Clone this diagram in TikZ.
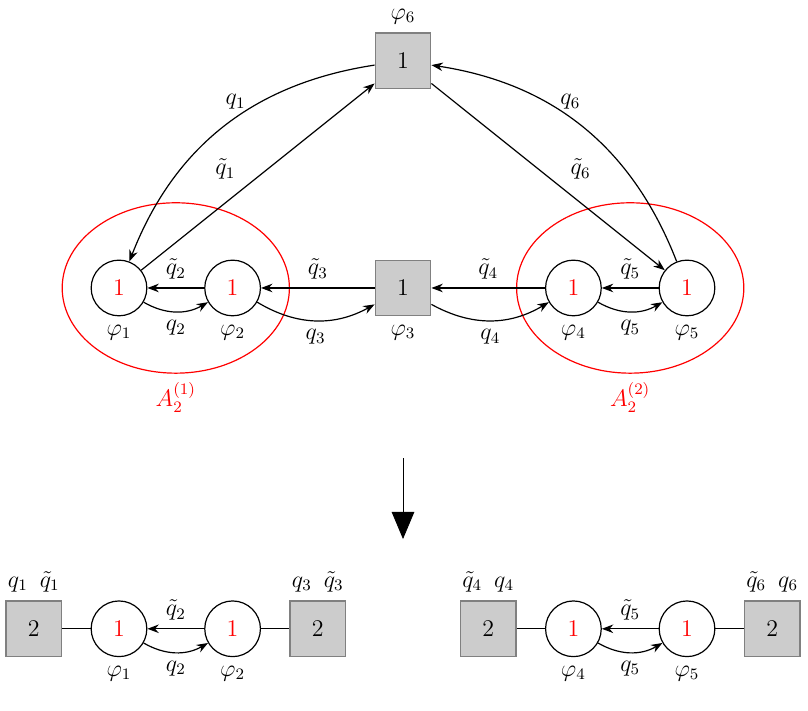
\documentclass[tikz,border=0pt,12pt]{standalone}
\usepackage{amsmath}
\usetikzlibrary{positioning,arrows.meta,shapes.geometric}

\begin{document}
\begin{tikzpicture}[>=Stealth, node distance=2cm, on grid, semithick,
    gauge/.style={draw, circle, minimum size=9.8mm, inner sep=0pt, text=red},
    flavor/.style={draw=gray, fill=black!20, minimum size=9.8mm, inner sep=0pt},
    block/.style={draw=red, ellipse, minimum width=4cm, minimum height=3cm}]
    \useasboundingbox (-2.095,5.07) rectangle (12.13,-7.447);
    % quiver before the split
    \node[gauge, label=below:$\varphi_1$] (phi1) {1};
    \node[gauge, label=below:$\varphi_2$, right=of phi1] (phi2) {1};
    \node[flavor, label=below:$\varphi_3$, right=3cm of phi2] (phi3) {1};
    \node[gauge, label=below:$\varphi_4$, right=3cm of phi3] (phi4) {1};
    \node[gauge, label=below:$\varphi_5$, right=of phi4] (phi5) {1};
    \node[flavor, label=above:$\varphi_6$, above=4cm of phi3] (phi6) {1};

    \node[block, label={[red]below:$A_2^{(1)}$}, right=1cm of phi1] (blk1) {};
    \node[block, label={[red]below:$A_2^{(2)}$}, right=1cm of phi4] (blk2) {};

    \draw[->] (phi2) -- node[above] {$\tilde q_2$} (phi1);
    \draw[->] (phi1) to[bend right=30] node[below] {$q_2$} (phi2);
    \draw[->] (phi3) -- node[above] {$\tilde q_3$} (phi2);
    \draw[->] (phi2) to[bend right=30] node[below] {$q_3$} (phi3);
    \draw[->] (phi4) -- node[above] {$\tilde q_4$} (phi3);
    \draw[->] (phi3) to[bend right=30] node[below] {$q_4$} (phi4);
    \draw[->] (phi5) -- node[above] {$\tilde q_5$} (phi4);
    \draw[->] (phi4) to[bend right=30] node[below] {$q_5$} (phi5);
    \draw[->] (phi1) -- node[above left, pos=0.44] {$\tilde q_1$} (phi6);
    \draw[->] (phi6) to[bend right=30] node[above, pos=0.45] {$q_1$} (phi1);
    \draw[->] (phi6) -- node[above right, pos=0.56] {$\tilde q_6$} (phi5);
    \draw[->] (phi5) to[bend right=30] node[above, pos=0.55] {$q_6$} (phi6);

    % big arrow
    \coordinate[below=3cm of phi3] (arrtop);
    \coordinate[below=4.42cm of phi3] (arrbot);
    \draw[thin, -{Triangle[length=4.8mm, width=4mm]}] (arrtop) -- (arrbot);

    % left piece
    \node[gauge, label=below:$\varphi_1$, below=6cm of phi1] (lphi1) {1};
    \node[gauge, label=below:$\varphi_2$, right=of lphi1] (lphi2) {1};
    \node[flavor, label=above:{$q_1$\enspace$\tilde q_1$}, left=1.5cm of lphi1] (lsq1) {2};
    \node[flavor, label=above:{$q_3$\enspace$\tilde q_3$}, right=1.5cm of lphi2] (lsq2) {2};
    \draw (lsq1) -- (lphi1);
    \draw (lphi2) -- (lsq2);
    \draw[->] (lphi2) -- node[above] {$\tilde q_2$} (lphi1);
    \draw[->] (lphi1) to[bend right=30] node[below] {$q_2$} (lphi2);

    % right piece
    \node[gauge, label=below:$\varphi_4$, below=6cm of phi4] (rphi4) {1};
    \node[gauge, label=below:$\varphi_5$, right=of rphi4] (rphi5) {1};
    \node[flavor, label=above:{$\tilde q_4$\enspace$q_4$}, left=1.5cm of rphi4] (rsq1) {2};
    \node[flavor, label=above:{$\tilde q_6$\enspace$q_6$}, right=1.5cm of rphi5] (rsq2) {2};
    \draw (rsq1) -- (rphi4);
    \draw (rphi5) -- (rsq2);
    \draw[->] (rphi5) -- node[above] {$\tilde q_5$} (rphi4);
    \draw[->] (rphi4) to[bend right=30] node[below] {$q_5$} (rphi5);
\end{tikzpicture}
\end{document}
